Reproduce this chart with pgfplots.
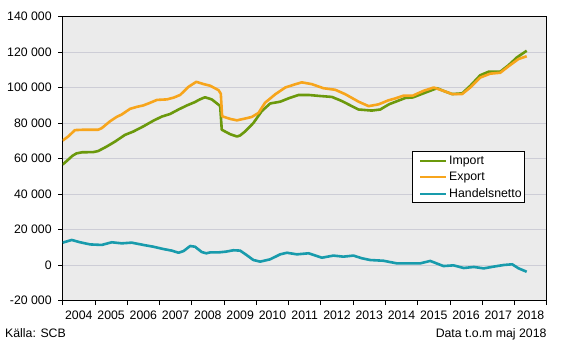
\documentclass[border=0pt]{standalone}
\usepackage{fontspec}
\setmainfont{Liberation Sans}
\usepackage{pgfplots}
\pgfplotsset{compat=1.18}
\definecolor{imp}{RGB}{107,153,12}
\definecolor{exp}{RGB}{247,165,28}
\definecolor{net}{RGB}{24,155,172}
\definecolor{bgc}{RGB}{235,235,235}
\definecolor{gridc}{RGB}{205,205,214}
\begin{document}
\begin{tikzpicture}[font=\fontsize{12.3bp}{15bp}\selectfont]
\useasboundingbox (-62.7bp,-40.5bp) rectangle (505.3bp,300.5bp);
\begin{axis}[
  scale only axis, width=484bp, height=284bp,
  xmin=2004, xmax=2019, ymin=-20000, ymax=140000,
  xtick={2004,2005,2006,2007,2008,2009,2010,2011,2012,2013,2014,2015,2016,2017,2018,2019},
  x tick label as interval,
  xticklabels={2004,2005,2006,2007,2008,2009,2010,2011,2012,2013,2014,2015,2016,2017,2018},
  xticklabel style={yshift=-2bp},
  ytick={-20000,0,20000,40000,60000,80000,100000,120000,140000},
  scaled y ticks=false,
  yticklabel style={xshift=-3bp, /pgf/number format/.cd, fixed, precision=0, 1000 sep={\ }, assume math mode=true},
  tick align=outside, tick pos=left,
  major tick length=4.5bp,
  axis background/.style={fill=bgc},
  ymajorgrids, grid style={gridc, line width=0.8bp},
  axis line style={black, line width=0.8bp},
  tick style={black, line width=0.8bp},
  every axis plot/.append style={line width=2.6bp, line join=round, mark=none},
  legend cell align=left,
  legend style={at={(axis description cs:0.7225,0.5265)}, anchor=north west,
    draw=black, line width=0.8bp, fill=white, inner sep=1bp, row sep=0pt,
    nodes={inner sep=2bp, text height=10bp, text depth=2.5bp}},
  legend image code/.code={\path (0bp,0bp); \draw[#1, line width=2.2bp] (5bp,0bp) -- (31bp,0bp);},
]
\addplot[imp] coordinates {
(2004.00,56600) (2004.15,59000) (2004.30,61500) (2004.43,62900) (2004.60,63500)
(2004.95,63600) (2005.10,64200) (2005.36,66700) (2005.62,69500) (2005.93,73300)
(2006.19,75200) (2006.50,78100) (2006.81,81300) (2007.07,83600) (2007.33,85100)
(2007.59,87600) (2007.85,89900) (2008.10,91800) (2008.25,93300) (2008.41,94500)
(2008.62,93300) (2008.83,90300) (2008.88,89500) (2008.93,76200) (2009.19,73700)
(2009.40,72400) (2009.50,73000) (2009.65,75200) (2009.91,80000) (2010.17,86700)
(2010.43,91000) (2010.74,92000) (2011.00,93900) (2011.31,95800) (2011.62,95800)
(2011.98,95200) (2012.34,94700) (2012.65,92400) (2012.96,89500) (2013.17,87600)
(2013.58,87000) (2013.84,87600) (2014.12,90600) (2014.62,94100) (2014.85,94400)
(2015.18,96700) (2015.60,99600) (2015.80,98100) (2016.07,96300) (2016.38,96700)
(2016.63,100900) (2016.94,106900) (2017.20,108900) (2017.56,108900) (2017.82,112600)
(2018.08,117000) (2018.38,120700)
};
\addlegendentry{Import}
\addplot[exp] coordinates {
(2004.00,70100) (2004.17,72400) (2004.38,76000) (2004.64,76200) (2005.10,76200)
(2005.21,77100) (2005.47,81000) (2005.67,83400) (2005.83,84800) (2006.09,88000)
(2006.30,89100) (2006.50,89900) (2006.71,91400) (2006.92,93000) (2007.23,93300)
(2007.44,94300) (2007.64,95800) (2007.90,100400) (2008.14,103200) (2008.37,101900)
(2008.57,101000) (2008.83,98500) (2008.90,96500) (2008.94,83800) (2009.19,82300)
(2009.40,81500) (2009.65,82500) (2009.86,83400) (2010.07,85700) (2010.27,91400)
(2010.59,96200) (2010.90,100000) (2011.15,101500) (2011.41,102900) (2011.72,101900)
(2012.08,99600) (2012.45,98700) (2012.76,96200) (2013.17,92000) (2013.48,89500)
(2013.79,90500) (2014.10,92800) (2014.30,93800) (2014.56,95400) (2014.85,95400)
(2015.18,98100) (2015.50,100000) (2015.80,98100) (2016.07,96300) (2016.38,96300)
(2016.63,100000) (2016.94,105600) (2017.25,107800) (2017.56,108300) (2017.82,112000)
(2018.13,116100) (2018.38,117600)
};
\addlegendentry{Export}
\addplot[net] coordinates {
(2004.00,12600) (2004.28,14100) (2004.54,12800) (2004.85,11600) (2005.21,11300)
(2005.52,12800) (2005.83,12200) (2006.14,12600) (2006.50,11300) (2006.81,10300)
(2007.12,9000) (2007.38,8100) (2007.59,6900) (2007.75,7900) (2007.95,10700)
(2008.10,10300) (2008.31,7300) (2008.45,6600) (2008.57,7100) (2008.83,7100)
(2009.05,7500) (2009.29,8300) (2009.50,8100) (2009.70,5600) (2009.91,2800)
(2010.12,1900) (2010.43,3200) (2010.74,6000) (2010.95,6900) (2011.26,6000)
(2011.62,6600) (2012.03,4100) (2012.39,5300) (2012.70,4700) (2013.01,5300)
(2013.27,3800) (2013.53,2800) (2013.94,2400) (2014.36,900) (2014.77,900)
(2015.08,900) (2015.39,2300) (2015.80,-600) (2016.11,-200) (2016.43,-1700)
(2016.74,-1100) (2017.05,-1900) (2017.36,-900) (2017.67,0) (2017.93,400)
(2018.13,-1900) (2018.38,-3800)
};
\addlegendentry{Handelsnetto}
\end{axis}
\node[anchor=base west, inner sep=0pt] at (-57.7bp,-36.5bp) {Källa: SCB};
\node[anchor=base east, inner sep=0pt] at (484bp,-36.5bp) {Data t.o.m maj 2018};
\end{tikzpicture}
\end{document}
